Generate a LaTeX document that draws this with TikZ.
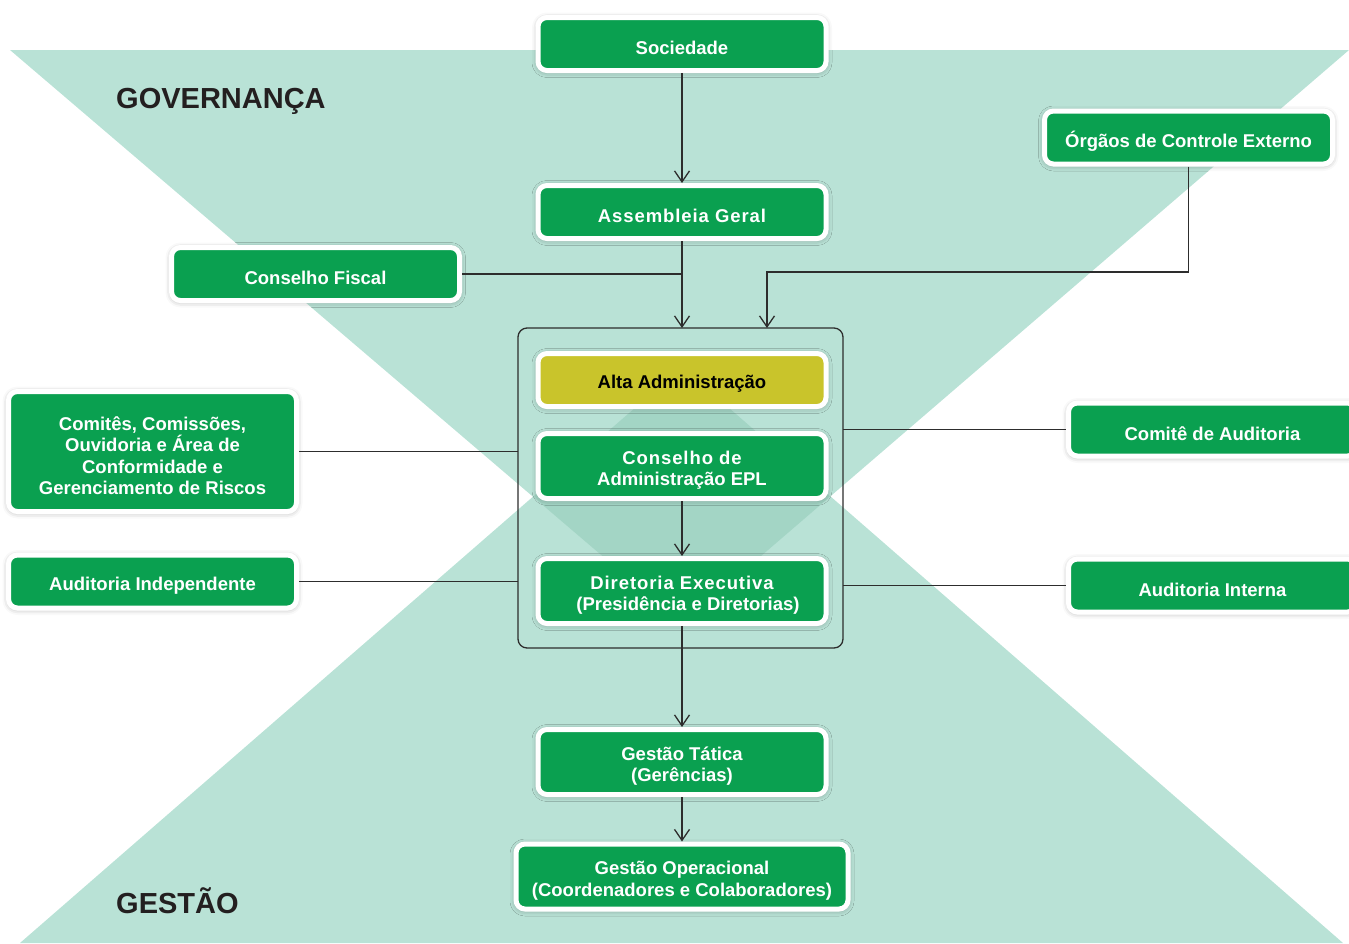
\documentclass[tikz,border=0pt]{standalone}
\usepackage{fontspec}
\setmainfont{Liberation Sans}
\usepackage{tikz}
\usetikzlibrary{positioning, arrows.meta, shadows.blur}

\definecolor{epl green}{RGB}{10,160,80}
\definecolor{alta yellow}{RGB}{201,196,43}
\definecolor{zone teal}{RGB}{185,226,214}
\definecolor{zone overlap}{RGB}{163,213,197}
\definecolor{line gray}{RGB}{45,45,45}
\definecolor{title black}{RGB}{35,31,32}

\newcommand{\spaced}[1]{{\addfontfeature{LetterSpace=5}#1}}

\begin{document}
\begin{tikzpicture}[
    x=1pt, y=-1pt,
    unit/.style={rectangle, draw=white, line width=5pt, rounded corners=9pt, fill=epl green,
                 minimum width=288pt, minimum height=53pt, inner sep=0pt,
                 blur shadow={shadow xshift=0pt, shadow yshift=-1pt, shadow blur radius=6pt, shadow opacity=35}},
    tall/.style={minimum height=65pt},
    caption/.style={text=white, font=\fontsize{18.5}{21.5}\selectfont\bfseries, align=center,
                    inner sep=0pt, yshift=-4pt},
    frame/.style={rectangle, draw=line gray, line width=1.3pt, rounded corners=9pt,
                  minimum width=325pt, minimum height=320pt, inner sep=0pt, outer sep=0pt},
    arrow/.style={-{Straight Barb[length=11pt, width=15pt]}, line width=1.3pt, draw=line gray},
    link/.style={line width=1.3pt, draw=line gray},
    zone/.style={font=\fontsize{29}{33}\selectfont\bfseries, text=title black, anchor=base west, inner sep=0pt}
]
    \useasboundingbox (0,0) rectangle (1349,943);

    % Background zones
    \fill[zone teal] (10,50) -- (1349,50) -- (682,624) -- cycle;
    \fill[zone teal] (20,943) -- (1343,943) -- (682,367) -- cycle;
    \begin{scope}
        \clip (10,50) -- (1349,50) -- (682,624) -- cycle;
        \fill[zone overlap] (20,943) -- (1343,943) -- (682,367) -- cycle;
    \end{scope}

    \node[zone] (governanca) at (116,108) {GOVERNANÇA};
    \node[zone] (gestao) at (116,913) {GESTÃO};

    % Governance chain
    \node[unit, label={[caption]center:Sociedade}] (sociedade) at (682,44) {};
    \node[unit, label={[caption]center:\spaced{Assembleia Geral}}] (assembleia) at (682,212) {};
    \node[unit, label={[caption]center:Conselho Fiscal}] (fiscal) at (315.5,274) {};
    \node[unit, label={[caption]center:Órgãos de Controle Externo}] (orgaos) at (1188.5,137.5) {};

    % Top management frame
    \node[frame] (frame) at (680.5,488) {};
    \node[unit, fill=alta yellow, label={[caption, text=black]center:Alta Administração}] (alta) at (682,380) {};
    \node[unit, tall, label={[caption]center:\spaced{Conselho de}\\Administração EPL}] (conselho) at (682,466) {};
    \node[unit, tall, label={[caption]center:\spaced{Diretoria Executiva}\\\hspace*{12pt}(Presidência e Diretorias)}] (diretoria) at (682,591) {};

    % Side bodies
    \node[unit, minimum height=120pt, label={[caption]center:{Comitês, Comissões,\\Ouvidoria e Área de\\Conformidade e\\Gerenciamento de Riscos}}] (comites) at (152.5,451.5) {};
    \node[unit, label={[caption]center:Auditoria Independente}] (independente) at (152.5,581.5) {};
    \node[unit, label={[caption]center:Comitê de Auditoria}] (comaud) at (1212.5,429.5) {};
    \node[unit, label={[caption]center:Auditoria Interna}] (interna) at (1212.5,585.5) {};

    % Management
    \node[unit, tall, label={[caption]center:Gestão Tática\\(Gerências)}] (tatica) at (682,762) {};
    \node[unit, tall, minimum width=332pt, label={[caption]center:Gestão Operacional\\(Coordenadores e Colaboradores)}] (operacional) at (682,876.5) {};

    % Connectors
    \coordinate (turn) at (767,272);
    \draw[arrow] (sociedade) -- (assembleia);
    \draw[arrow] (assembleia.south) -- (assembleia.south |- frame.north);
    \draw[link] (fiscal.east) -- (fiscal.east -| assembleia.south);
    \draw[arrow] (orgaos.south) |- (turn) -- (turn |- frame.north);
    \draw[link] (comites.east) -- (comites.east -| frame.west);
    \draw[link] (independente.east) -- (independente.east -| frame.west);
    \draw[link] (frame.east |- comaud.west) -- (comaud.west);
    \draw[link] (frame.east |- interna.west) -- (interna.west);
    \draw[arrow] (conselho) -- (diretoria);
    \draw[arrow] (diretoria) -- (tatica);
    \draw[arrow] (tatica) -- (operacional);

\end{tikzpicture}
\end{document}
